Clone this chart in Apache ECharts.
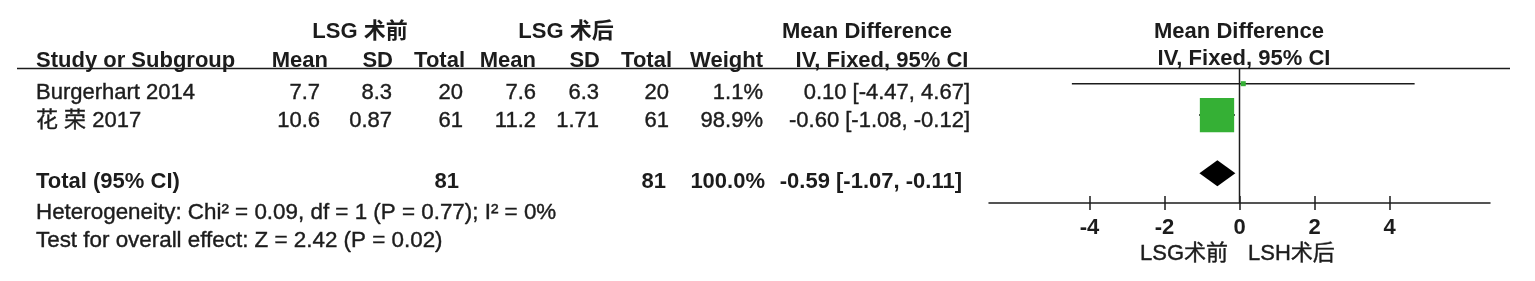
<!DOCTYPE html>
<html><head><meta charset="utf-8">
<script src="https://cdn.jsdelivr.net/npm/echarts@6/dist/echarts.min.js"></script>
<style>html,body{margin:0;padding:0;background:#fff}#c{width:1535px;height:281px}</style>
</head><body><div id="c"></div>
<script>
// ---- data ----
const studies = ['Burgerhart 2014', '花 荣 2017'];
const expMean = [7.7, 10.6];
const expSD = [8.3, 0.87];
const expN = [20, 61];
const ctlMean = [7.6, 11.2];
const ctlSD = [6.3, 1.71];
const ctlN = [20, 61];
const weights = [1.1, 98.9];
const md = [0.10, -0.60];
const ciLow = [-4.47, -1.08];
const ciHigh = [4.67, -0.12];
const totalExpN = 81, totalCtlN = 81, totalWeight = 100.0;
const totalMD = -0.59, totalLow = -1.07, totalHigh = -0.11;
const heterogeneityText = 'Heterogeneity: Chi² = 0.09, df = 1 (P = 0.77); I² = 0%';
const overallText = 'Test for overall effect: Z = 2.42 (P = 0.02)';
const xTicks = [-4, -2, 0, 2, 4];
const groupLabels = ['LSG 术前', 'LSG 术后'];
const favourLabels = ['LSG术前', 'LSH术后'];

// ---- layout ----
const FONT = '"Liberation Sans", Arial, "Noto Sans CJK SC", sans-serif';
const INK = '#1c1c1c';
const GREEN = '#35b035';
const rowPos = [1, 2];      // plot rows for studies
const totalPos = 3.85;      // plot row for total

const fmt2 = v => v.toFixed(2);
const ciStr = (m, l, h) => `${fmt2(m)} [${fmt2(l)}, ${fmt2(h)}]`;

const G = [];
function txt(text, x, y, align, bold, size) {
  G.push({type:'text', x, y, silent:true, style:{
    text, fill: INK, textAlign: align, textVerticalAlign: 'middle',
    stroke: bold ? null : INK, lineWidth: bold ? 0 : 0.4,
    font: `${bold ? 'bold ' : ''}${size || 22}px ${FONT}`
  }});
}
// header row 1
txt(groupLabels[0], 360, 32, 'center', true);
txt(groupLabels[1], 566, 32, 'center', true);
txt('Mean Difference', 867, 32, 'center', true);
txt('Mean Difference', 1239, 32, 'center', true);
// header row 2
const h2y = 61;
txt('Study or Subgroup', 36, h2y, 'left', true);
txt('Mean', 328, h2y, 'right', true);
txt('SD', 393, h2y, 'right', true);
txt('Total', 465, h2y, 'right', true);
txt('Mean', 536, h2y, 'right', true);
txt('SD', 600, h2y, 'right', true);
txt('Total', 672, h2y, 'right', true);
txt('Weight', 763, h2y, 'right', true);
txt('IV, Fixed, 95% CI', 882, h2y, 'center', true);
txt('IV, Fixed, 95% CI', 1244, h2y - 2, 'center', true);
// study rows
const rowY = [93, 121];
studies.forEach((s, i) => {
  const y = rowY[i];
  txt(s, 36, y, 'left', false);
  txt(String(expMean[i]), 320, y, 'right', false);
  txt(String(expSD[i]), 392, y, 'right', false);
  txt(String(expN[i]), 463, y, 'right', false);
  txt(String(ctlMean[i]), 536, y, 'right', false);
  txt(String(ctlSD[i]), 599, y, 'right', false);
  txt(String(ctlN[i]), 669, y, 'right', false);
  txt(weights[i].toFixed(1) + '%', 763, y, 'right', false);
  txt(ciStr(md[i], ciLow[i], ciHigh[i]), 970, y, 'right', false);
});
// total row
const ty = 182;
txt('Total (95% CI)', 36, ty, 'left', true);
txt(String(totalExpN), 459, ty, 'right', true);
txt(String(totalCtlN), 666, ty, 'right', true);
txt(totalWeight.toFixed(1) + '%', 765, ty, 'right', true);
txt(ciStr(totalMD, totalLow, totalHigh), 962, ty, 'right', true);
txt(heterogeneityText, 36, 213, 'left', false, 22.4);
txt(overallText, 36, 241, 'left', false, 22.4);
// favour labels
txt(favourLabels[0], 1228, 254, 'right', false);
txt(favourLabels[1], 1248, 254, 'left', false);
// header rule
G.push({type:'line', silent:true, shape:{x1:17, y1:68.5, x2:1510, y2:68.5}, style:{stroke:INK, lineWidth:1.5}});

const chart = echarts.init(document.getElementById('c'), null, {renderer:'canvas'});
const xMin = -6.68, xMax = 6.68;
chart.setOption({
  animation: false,
  backgroundColor: '#fff',
  grid: {left: 989, right: 45, top: 68, bottom: 78, containLabel: false},
  xAxis: [{
    type: 'value', min: xMin, max: xMax, position: 'bottom',
    axisLine: {show: true, onZero: false, lineStyle: {color: INK, width: 1.5}},
    axisTick: {show: true, customValues: xTicks, length: 7, lineStyle: {color: INK, width: 1.5}},
    axisLabel: {show: true, customValues: xTicks, margin: 14, color: INK, fontSize: 22, fontWeight: 'bold', fontFamily: FONT},
    splitLine: {show: false}
  }, {
    type: 'value', min: xMin, max: xMax, position: 'bottom', offset: 0,
    axisLine: {show: false, onZero: false},
    axisTick: {show: true, inside: true, customValues: xTicks, length: 7, lineStyle: {color: INK, width: 1.5}},
    axisLabel: {show: false},
    splitLine: {show: false}
  }],
  yAxis: {type: 'value', min: 0.5, max: 4.8, inverse: true, show: false},
  series: [
    { // zero line
      type: 'line', xAxisIndex: 0, symbol: 'none', silent: true,
      data: [[0, 0.5], [0, 4.8]], lineStyle: {color: INK, width: 1.5}
    },
    { // CI whiskers
      type: 'custom', xAxisIndex: 0, silent: true,
      data: studies.map((s, i) => [ciLow[i], ciHigh[i], rowPos[i]]),
      renderItem: (params, api) => {
        const a = api.coord([api.value(0), api.value(2)]);
        const b = api.coord([api.value(1), api.value(2)]);
        return {type: 'line', shape: {x1: a[0], y1: a[1], x2: b[0], y2: b[1]}, style: {stroke: INK, lineWidth: 1.5}};
      }
    },
    { // weight squares
      type: 'scatter', xAxisIndex: 0, symbol: 'rect', silent: true, z: 3,
      data: studies.map((s, i) => [md[i], rowPos[i], weights[i]]),
      symbolSize: v => Math.max(5, Math.sqrt(v[2]) * 3.45),
      itemStyle: {color: GREEN, opacity: 1}
    },
    { // pooled diamond
      type: 'custom', xAxisIndex: 0, silent: true, z: 3,
      data: [[totalLow, totalMD, totalHigh, totalPos]],
      renderItem: (params, api) => {
        const y = api.value(3);
        const l = api.coord([api.value(0), y]);
        const m = api.coord([api.value(1), y]);
        const r = api.coord([api.value(2), y]);
        const h = 13;
        return {type: 'polygon', shape: {points: [[l[0], l[1]], [m[0], m[1] - h], [r[0], r[1]], [m[0], m[1] + h]]}, style: {fill: '#000'}};
      }
    }
  ],
  graphic: {elements: G}
});
</script></body></html>
